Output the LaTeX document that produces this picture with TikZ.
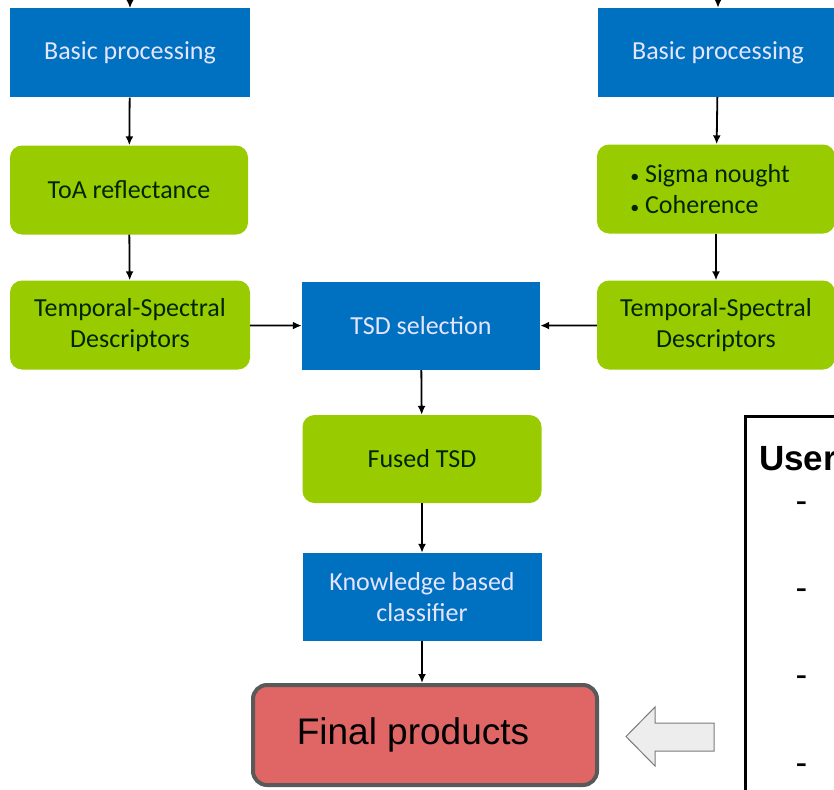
\documentclass[tikz,border=0pt]{standalone}
\usepackage{fontspec}
\setmainfont{Carlito}
\newfontfamily\arialfont{Liberation Sans}
\usetikzlibrary{positioning, calc, arrows, arrows.meta}
\tikzset{>=latex}
\definecolor{myblue}{HTML}{0070C0}
\definecolor{mygreen}{HTML}{99CC00}
\definecolor{myred}{HTML}{E06666}
\definecolor{mygray}{HTML}{595959}
\colorlet{bluetext}{blue!10!white}
\colorlet{greentext}{black!85!green}
\newcommand{\bul}{{\fontsize{18}{31}\selectfont\textbullet}\ }
\tikzset{
  procbox/.style={fill=myblue, text=bluetext, minimum width=240pt, minimum height=89pt, align=center, font=\fontsize{26}{31}\selectfont},
  databox/.style={fill=mygreen, text=greentext, rounded corners=12pt, minimum width=238pt, minimum height=89pt, align=center, font=\fontsize{26}{31}\selectfont},
  flow/.style={-{Latex[length=9pt, width=8pt]}, line width=1.8pt}
}

\begin{document}
\begin{tikzpicture}[x=1pt, y=-1pt]
  \useasboundingbox (0,0) rectangle (834,789);
  \clip (0,0) rectangle (834,789);

  % left branch
  \node[procbox] (bp1) at (130,53) {Basic processing};
  \node[databox] (toa) at (129,190) {ToA reflectance};
  \node[databox, minimum width=240pt] (tsd1) at (130,325) {Temporal-Spectral\\Descriptors};

  % right branch
  \node[procbox] (bp2) at (718,52.5) {Basic processing};
  \node[databox, align=left] (sig) at (716,189) {\bul Sigma nought\hbox to 12pt{}\\\bul Coherence};
  \node[databox] (tsd2) at (716,325) {Temporal-Spectral\\Descriptors};

  % fusion chain
  \node[procbox, minimum width=238pt, minimum height=88pt] (sel) at (421,326) {TSD selection};
  \node[databox, minimum width=239pt, minimum height=88pt] (fused) at (422,459) {Fused TSD};
  \node[procbox, minimum width=239pt, minimum height=88pt] (knw) at (422,597) {Knowledge based\\classifier};
  \node[fill=myred, draw=mygray, line width=4pt, rounded corners=14pt, minimum width=344pt, minimum height=100pt, font=\arialfont\fontsize{37}{44}\selectfont] (final) at (425,735) {Final products\hbox to 24pt{}};

  % user box
  \node[draw, line width=3pt, anchor=north west, minimum width=200pt, minimum height=420pt] (user) at (743.5,414.5) {};
  \node[anchor=base west, inner sep=0, font=\arialfont\bfseries\fontsize{35}{42}\selectfont] (usertitle) at (759,470) {User};
  \foreach \y [count=\i] in {512,599,686,774}
    \node[anchor=base, inner sep=0, font=\arialfont\fontsize{35}{42}\selectfont] (dash\i) at (801.5,\y) {-};

  % hint arrow
  \draw[mygray!80, fill=black!7, line width=1pt] (714,723) -- (655,723) -- (655,707) -- (626,736.5) -- (655,766) -- (655,751) -- (714,751) -- cycle;

  \coordinate (in1) at (130,-6);
  \coordinate (in2) at (718,-6);
  \draw[flow] (in1) -- (bp1);
  \draw[flow] (in2) -- (bp2);
  \draw[flow] (bp1) -- (toa);
  \draw[flow] (toa) -- (tsd1);
  \draw[flow] (bp2) -- (sig);
  \draw[flow] (sig) -- (tsd2);
  \draw[flow] (tsd1) -- (sel);
  \draw[flow] (tsd2) -- (sel);
  \draw[flow] (sel) -- (fused);
  \draw[flow] (fused) -- (knw);
  \draw[flow] (knw) -- (knw |- final.north);
\end{tikzpicture}
\end{document}
